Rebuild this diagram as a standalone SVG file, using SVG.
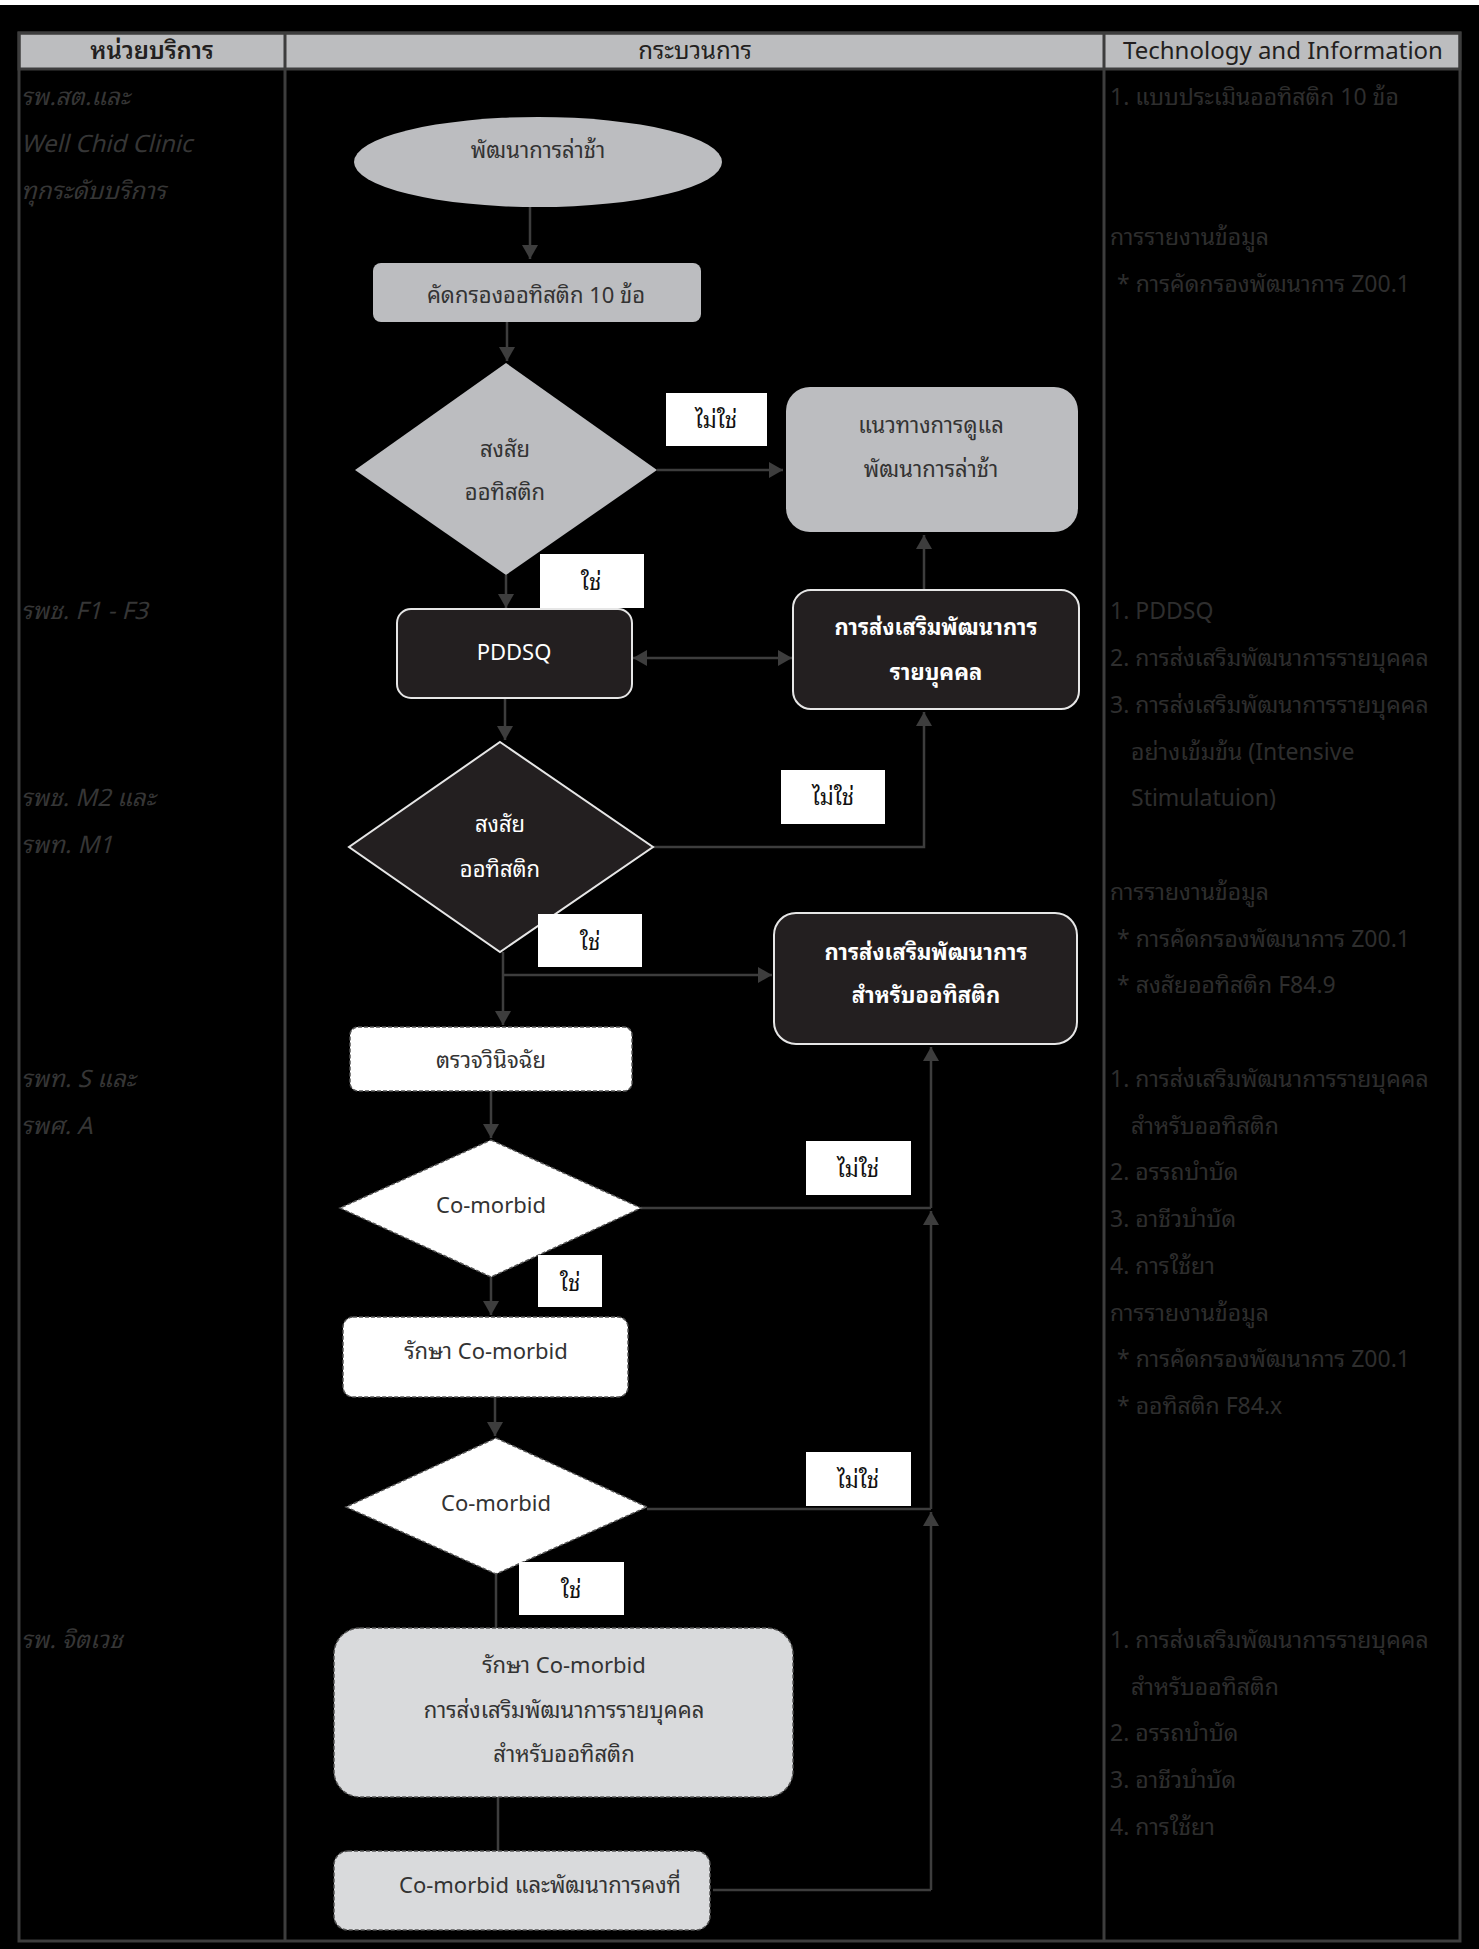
<svg xmlns="http://www.w3.org/2000/svg" width="1479" height="1949" viewBox="0 0 1479 1949">
<defs>
<style>
text { font-family: "Noto Sans Thai Looped", "Noto Sans Thai", "Noto Sans Thai UI", "Noto Sans", "DejaVu Sans", sans-serif; }
.grid { stroke: #3d3d3d; stroke-width: 3; fill: none; }
.hdr { fill: #bcbdbf; stroke: #3d3d3d; stroke-width: 3; }
.ht { font-size: 24px; fill: #231f20; text-anchor: middle; }
.c1 { font-size: 24px; font-style: italic; fill: #363636; }
.c3 { font-size: 23px; fill: #2e2e2e; }
.conn { stroke: #3d3d3d; stroke-width: 2.5; fill: none; }
.arr { marker-end: url(#ah); }
.gray { fill: #bcbdc0; }
.dark { fill: #231f20; stroke: #e6e6e6; stroke-width: 2; }
.white { fill: #ffffff; stroke: #555555; stroke-width: 1.5; stroke-dasharray: 4 2; }
.lite { fill: #d9dadc; stroke: #555555; stroke-width: 1.5; stroke-dasharray: 4 2; }
.lbl { fill: #ffffff; }
.nt { font-size: 22px; fill: #333333; text-anchor: middle; }
.wt { font-size: 22px; fill: #ffffff; text-anchor: middle; }
.bt { font-size: 22px; fill: #ffffff; text-anchor: middle; font-weight: bold; }
.lt { font-size: 22px; fill: #111111; text-anchor: middle; }
</style>
<marker id="ah" viewBox="0 0 14 16" refX="14" refY="8" markerWidth="14" markerHeight="16" markerUnits="userSpaceOnUse" orient="auto-start-reverse">
<path d="M0,0 L14,8 L0,16 z" fill="#3d3d3d"/>
</marker>
</defs>
<rect x="0" y="0" width="1479" height="1949" fill="#000000"/>
<rect x="0" y="0" width="1479" height="5" fill="#ffffff"/>

<g id="table">
<rect class="hdr" x="19" y="33" width="1441" height="36"/>
<rect class="grid" x="19" y="33" width="1441" height="1908"/>
<line class="grid" x1="285" y1="33" x2="285" y2="1941"/>
<line class="grid" x1="1104" y1="33" x2="1104" y2="1941"/>
<text class="ht" x="152" y="59" font-weight="600">หน่วยบริการ</text>
<text class="ht" x="695" y="59">กระบวนการ</text>
<text class="ht" x="1283" y="59">Technology and Information</text>
</g>

<g id="units">
<text class="c1" x="21" y="105">รพ.สต.และ</text>
<text class="c1" x="21" y="152">Well Chid Clinic</text>
<text class="c1" x="21" y="199">ทุกระดับบริการ</text>
<text class="c1" x="21" y="619">รพช. F1 - F3</text>
<text class="c1" x="21" y="806">รพช. M2 และ</text>
<text class="c1" x="21" y="853">รพท. M1</text>
<text class="c1" x="21" y="1087">รพท. S และ</text>
<text class="c1" x="21" y="1134">รพศ. A</text>
<text class="c1" x="21" y="1648">รพ. จิตเวช</text>
</g>

<g id="tech">
<text class="c3" x="1110" y="105">1. แบบประเมินออทิสติก 10 ข้อ</text>
<text class="c3" x="1110" y="245">การรายงานข้อมูล</text>
<text class="c3" x="1117" y="292">* การคัดกรองพัฒนาการ Z00.1</text>
<text class="c3" x="1110" y="619">1. PDDSQ</text>
<text class="c3" x="1110" y="666">2. การส่งเสริมพัฒนาการรายบุคคล</text>
<text class="c3" x="1110" y="713">3. การส่งเสริมพัฒนาการรายบุคคล</text>
<text class="c3" x="1131" y="760">อย่างเข้มข้น (Intensive</text>
<text class="c3" x="1131" y="806">Stimulatuion)</text>
<text class="c3" x="1110" y="900">การรายงานข้อมูล</text>
<text class="c3" x="1117" y="947">* การคัดกรองพัฒนาการ Z00.1</text>
<text class="c3" x="1117" y="993">* สงสัยออทิสติก F84.9</text>
<text class="c3" x="1110" y="1087">1. การส่งเสริมพัฒนาการรายบุคคล</text>
<text class="c3" x="1131" y="1134">สำหรับออทิสติก</text>
<text class="c3" x="1110" y="1180">2. อรรถบำบัด</text>
<text class="c3" x="1110" y="1227">3. อาชีวบำบัด</text>
<text class="c3" x="1110" y="1274">4. การใช้ยา</text>
<text class="c3" x="1110" y="1321">การรายงานข้อมูล</text>
<text class="c3" x="1117" y="1367">* การคัดกรองพัฒนาการ Z00.1</text>
<text class="c3" x="1117" y="1414">* ออทิสติก F84.x</text>
<text class="c3" x="1110" y="1648">1. การส่งเสริมพัฒนาการรายบุคคล</text>
<text class="c3" x="1131" y="1695">สำหรับออทิสติก</text>
<text class="c3" x="1110" y="1741">2. อรรถบำบัด</text>
<text class="c3" x="1110" y="1788">3. อาชีวบำบัด</text>
<text class="c3" x="1110" y="1835">4. การใช้ยา</text>
</g>

<g id="connectors">
<path class="conn arr" d="M530,207 V259"/>
<path class="conn arr" d="M507,322 V361"/>
<path class="conn arr" d="M657,470 H783"/>
<path class="conn arr" d="M506,575 V608"/>
<path class="conn arr" d="M633,658 H792" marker-start="url(#ah)"/>
<path class="conn arr" d="M924,590 V535"/>
<path class="conn arr" d="M505,698 V740"/>
<path class="conn arr" d="M653,847 H924 V712"/>
<path class="conn arr" d="M503,952 V1025"/>
<path class="conn arr" d="M503,975 H772"/>
<path class="conn arr" d="M491,1091 V1138"/>
<path class="conn" d="M641,1208 H931"/>
<path class="conn arr" d="M931,1208 V1047"/>
<path class="conn arr" d="M931,1509 V1211"/>
<path class="conn" d="M647,1509 H931"/>
<path class="conn arr" d="M931,1890 V1512"/>
<path class="conn" d="M713,1890 H931"/>
<path class="conn arr" d="M491,1277 V1315"/>
<path class="conn arr" d="M495,1397 V1436"/>
<path class="conn" d="M496,1574 V1628"/>
<path class="conn" d="M498,1797 V1851"/>
</g>

<g id="n-delay">
<ellipse class="gray" cx="538" cy="162" rx="184" ry="45"/>
<text class="nt" x="538" y="158">พัฒนาการล่าช้า</text>
</g>
<g id="n-screen">
<rect class="gray" x="373" y="263" width="328" height="59" rx="8"/>
<text class="nt" x="536" y="303">คัดกรองออทิสติก 10 ข้อ</text>
</g>
<g id="n-d1">
<polygon class="gray" points="506,363 657,470 506,575 355,470"/>
<text class="nt" x="505" y="457">สงสัย</text>
<text class="nt" x="505" y="500">ออทิสติก</text>
</g>
<g id="n-guide">
<rect class="gray" x="786" y="387" width="292" height="145" rx="24"/>
<text class="nt" x="931" y="433">แนวทางการดูแล</text>
<text class="nt" x="931" y="477">พัฒนาการล่าช้า</text>
</g>
<g id="l-no1">
<rect class="lbl" x="666" y="393" width="101" height="53"/>
<text class="lt" x="716" y="428">ไม่ใช่</text>
</g>
<g id="l-yes1">
<rect class="lbl" x="540" y="554" width="104" height="54"/>
<text class="lt" x="591" y="590">ใช่</text>
</g>
<g id="n-pddsq">
<rect class="dark" x="397" y="609" width="235" height="89" rx="14"/>
<text class="wt" x="514" y="660">PDDSQ</text>
</g>
<g id="n-individual">
<rect class="dark" x="793" y="590" width="286" height="119" rx="18"/>
<text class="bt" x="936" y="635">การส่งเสริมพัฒนาการ</text>
<text class="bt" x="936" y="680">รายบุคคล</text>
</g>
<g id="n-d2">
<polygon class="dark" points="500,742 653,847 500,952 349,847"/>
<text class="wt" x="500" y="832">สงสัย</text>
<text class="wt" x="500" y="877">ออทิสติก</text>
</g>
<g id="l-no2">
<rect class="lbl" x="781" y="770" width="104" height="54"/>
<text class="lt" x="833" y="805">ไม่ใช่</text>
</g>
<g id="l-yes2">
<rect class="lbl" x="538" y="914" width="104" height="53"/>
<text class="lt" x="590" y="950">ใช่</text>
</g>
<g id="n-autism">
<rect class="dark" x="774" y="913" width="303" height="131" rx="22"/>
<text class="bt" x="926" y="960">การส่งเสริมพัฒนาการ</text>
<text class="bt" x="926" y="1003">สำหรับออทิสติก</text>
</g>
<g id="n-diag">
<rect class="white" x="350" y="1027" width="282" height="64" rx="8"/>
<text class="nt" x="491" y="1068">ตรวจวินิจฉัย</text>
</g>
<g id="n-d3">
<polygon class="white" points="491,1140 641,1208 491,1277 340,1208"/>
<text class="nt" x="491" y="1213">Co-morbid</text>
</g>
<g id="l-no3">
<rect class="lbl" x="806" y="1141" width="105" height="54"/>
<text class="lt" x="858" y="1177">ไม่ใช่</text>
</g>
<g id="l-yes3">
<rect class="lbl" x="538" y="1255" width="64" height="52"/>
<text class="lt" x="570" y="1291">ใช่</text>
</g>
<g id="n-treat">
<rect class="white" x="343" y="1317" width="285" height="80" rx="10"/>
<text class="nt" x="486" y="1359">รักษา Co-morbid</text>
</g>
<g id="n-d4">
<polygon class="white" points="496,1438 647,1507 496,1574 346,1507"/>
<text class="nt" x="496" y="1511">Co-morbid</text>
</g>
<g id="l-no4">
<rect class="lbl" x="806" y="1452" width="105" height="54"/>
<text class="lt" x="858" y="1488">ไม่ใช่</text>
</g>
<g id="l-yes4">
<rect class="lbl" x="519" y="1562" width="105" height="53"/>
<text class="lt" x="571" y="1598">ใช่</text>
</g>
<g id="n-psych">
<rect class="lite" x="334" y="1628" width="459" height="169" rx="26"/>
<text class="nt" x="564" y="1673">รักษา Co-morbid</text>
<text class="nt" x="564" y="1718">การส่งเสริมพัฒนาการรายบุคคล</text>
<text class="nt" x="564" y="1762">สำหรับออทิสติก</text>
</g>
<g id="n-stable">
<rect class="lite" x="334" y="1851" width="376" height="79" rx="14"/>
<text class="nt" x="540" y="1893">Co-morbid และพัฒนาการคงที่</text>
</g>
</svg>
